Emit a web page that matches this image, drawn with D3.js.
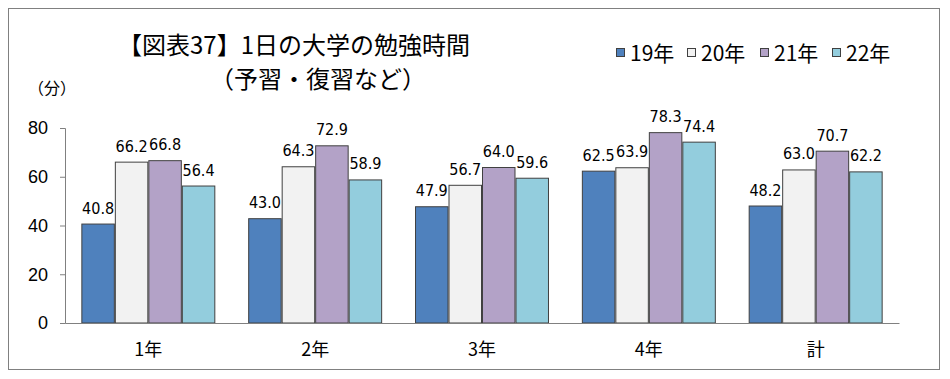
<!DOCTYPE html>
<html><head><meta charset="utf-8">
<script src="https://cdn.jsdelivr.net/npm/d3@7"></script>
<style>body{margin:0;background:#fff;}svg{display:block;}</style>
</head><body>
<script>
const categories = ["1年", "2年", "3年", "4年", "計"];
const seriesNames = ["19年", "20年", "21年", "22年"];
const v19 = [40.8, 43.0, 47.9, 62.5, 48.2];
const v20 = [66.2, 64.3, 56.7, 63.9, 63.0];
const v21 = [66.8, 72.9, 64.0, 78.3, 70.7];
const v22 = [56.4, 58.9, 59.6, 74.4, 62.2];
const yTicks = [0, 20, 40, 60, 80];
const colors = ["#4F81BD", "#F2F2F2", "#B3A2C7", "#93CDDD"];
const series = [v19, v20, v21, v22];

(function () {
const W = 950, H = 379;
const svg = d3.select("body").append("svg").attr("width", W).attr("height", H);
svg.append("rect").attr("x", 8.5).attr("y", 8.5).attr("width", 931).attr("height", 361)
  .attr("fill", "#fff").attr("stroke", "#808080").attr("stroke-width", 1);

const pL = 65, pR = 899, pT = 128, pB = 323;
const x0 = d3.scaleBand().domain(categories).range([pL, pR]).paddingInner(0.197).paddingOuter(0.098);
const x1 = d3.scaleBand().domain(seriesNames).range([0, x0.bandwidth()]).padding(0);
const y = d3.scaleLinear().domain([0, 80]).range([pB, pT]);

const font = "'Liberation Sans', Arial, sans-serif";
const jfont = "'Noto Sans CJK JP', sans-serif";

const yAxis = svg.append("g").attr("transform", `translate(${pL},0)`)
  .call(d3.axisLeft(y).tickValues(yTicks).tickSize(5).tickPadding(12));
yAxis.select(".domain").attr("stroke", "#808080");
yAxis.selectAll(".tick line").attr("stroke", "#808080");
yAxis.selectAll("text").attr("font-family", font).attr("font-size", 18).attr("fill", "#000");

const g = svg.append("g");
categories.forEach((c, i) => {
  series.forEach((s, j) => {
    const xx = x0(c) + x1(seriesNames[j]);
    g.append("rect")
      .attr("x", xx + 0.5).attr("y", y(s[i]) + 0.5)
      .attr("width", x1.bandwidth() - 1).attr("height", y(0) - y(s[i]) - 0.5)
      .attr("fill", colors[j]).attr("stroke", "#404040").attr("stroke-width", 1);
    g.append("text")
      .attr("x", xx + x1.bandwidth() / 2)
      .attr("y", y(s[i]) - 10)
      .attr("text-anchor", "middle")
      .attr("font-family", "'Liberation Sans Narrow', 'DejaVu Sans Condensed', sans-serif")
      .attr("font-size", 16).attr("fill", "#000")
      .text(s[i].toFixed(1));
  });
});

const xAxis = svg.append("g").attr("transform", `translate(0,${pB})`)
  .call(d3.axisBottom(x0).tickSize(0).tickPadding(20));
xAxis.select(".domain").attr("stroke", "#808080");
xAxis.selectAll("text").attr("font-family", jfont).attr("font-size", 18).attr("fill", "#000");

svg.append("text").attr("x", 118).attr("y", 54).attr("font-family", jfont).attr("font-size", 24)
  .text("【図表37】1日の大学の勉強時間");
svg.append("text").attr("x", 318).attr("y", 88).attr("text-anchor", "middle").attr("font-family", jfont).attr("font-size", 24)
  .text("（予習・復習など）");
svg.append("text").attr("x", 28).attr("y", 94).attr("font-family", jfont).attr("font-size", 16)
  .text("（分）");

const legX = [616, 687, 760, 832];
seriesNames.forEach((n, j) => {
  svg.append("rect").attr("x", legX[j] + 0.5).attr("y", 48.5).attr("width", 8).attr("height", 8)
    .attr("fill", colors[j]).attr("stroke", "#404040");
  svg.append("text").attr("x", legX[j] + 14).attr("y", 61).attr("font-family", jfont).attr("font-size", 21)
    .text(n);
});
})();
</script>
</body></html>
